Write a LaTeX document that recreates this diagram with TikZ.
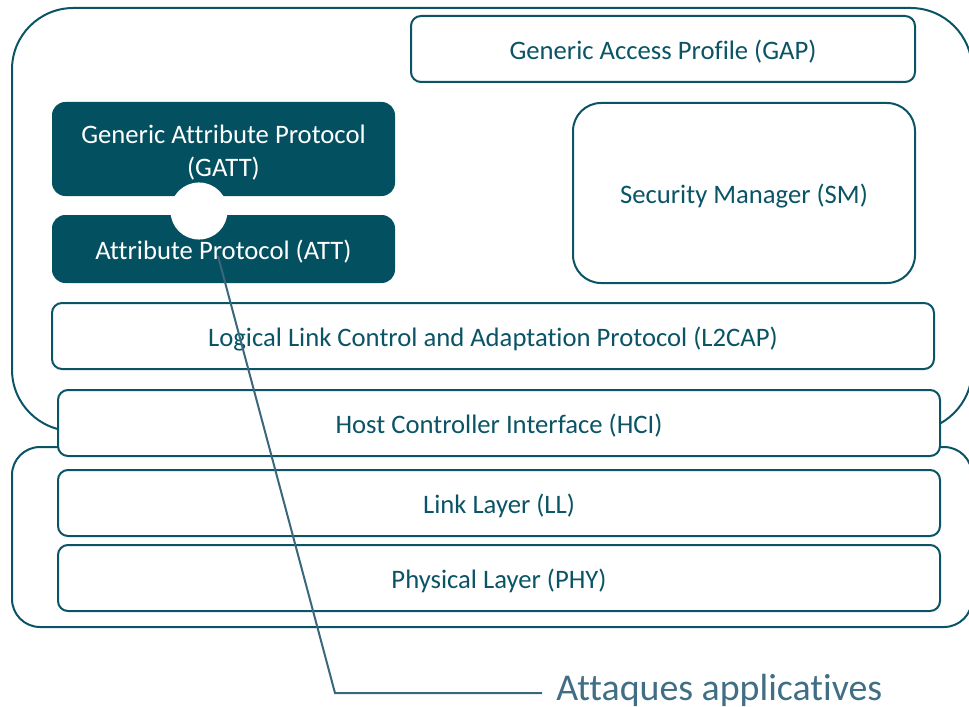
\documentclass[tikz,border=0pt]{standalone}
\usepackage{fontspec}
\setmainfont{Carlito}[Ligatures=NoCommon]
\definecolor{bleteal}{RGB}{10,84,102}
\definecolor{blefill}{RGB}{3,80,96}
\definecolor{calloutc}{RGB}{58,103,124}
\definecolor{labelc}{RGB}{64,110,132}
\begin{document}
\begin{tikzpicture}[x=0.75pt,y=-0.75pt,
  container/.style={draw=bleteal, line width=1.5pt, fill=white},
  layertext/.style={font=\fontsize{20}{24.75}\selectfont, inner sep=0pt},
  layer/.style={layertext, draw=bleteal, line width=1.5pt, fill=white,
    rounded corners=7.5pt, text=bleteal, text height=15.6pt, text depth=0pt,
    minimum height=49.5pt},
  darklayer/.style={layertext, fill=blefill, draw=none, rounded corners=10pt,
    text=white, minimum width=257.25pt},
  callout/.style={draw=calloutc, line width=1.5pt}]
\useasboundingbox (0,0) rectangle (969,706);
\clip (0,0) rectangle (969,706);

% host and controller enclosures
\draw[container, rounded corners=46pt] (12,8) rectangle (972,431);
\draw[container, rounded corners=21pt] (12,447) rectangle (972,627);

% host layers
\node[layer, minimum width=378pt] (gap) at (663,49) {Generic Access Profile (GAP)};
\node[darklayer, minimum height=70.5pt,
  label={[layertext, text=white, align=center, yshift=-3pt]center:Generic Attribute Protocol\\(GATT)}]
  (gatt) at (223.5,149) {};
\node[darklayer, minimum height=51pt, text height=15.6pt, text depth=0pt]
  (att) at (223.5,249) {Attribute Protocol (ATT)};
\fill[white] (199,211) circle[radius=21.4pt];
\node[layer, rounded corners=21pt, minimum width=256.5pt, minimum height=135pt] (sm)
  at (744,193) {Security Manager (SM)};
\node[layer, minimum width=661.5pt] (l2cap) at (493,336)
  {Logical Link Control and Adaptation Protocol (L2CAP)};

% interface and controller layers
\node[layer, minimum width=661.5pt] (hci) at (499,423) {Host Controller Interface (HCI)};
\node[layer, minimum width=661.5pt] (ll) at (499,503) {Link Layer (LL)};
\node[layer, minimum width=661.5pt] (phy) at (499,578) {Physical Layer (PHY)};

% callout
\node[anchor=base west, inner sep=0pt, text=labelc, font=\fontsize{28.4}{34}\selectfont]
  (lbl) at (556,700) {Attaques applicatives};
\coordinate (cstart) at (218,256);
\coordinate (cbend) at (335,693);
\draw[callout] (cstart) -- (cbend) -- ([xshift=-10.5pt]cbend -| lbl.west);
\end{tikzpicture}
\end{document}
